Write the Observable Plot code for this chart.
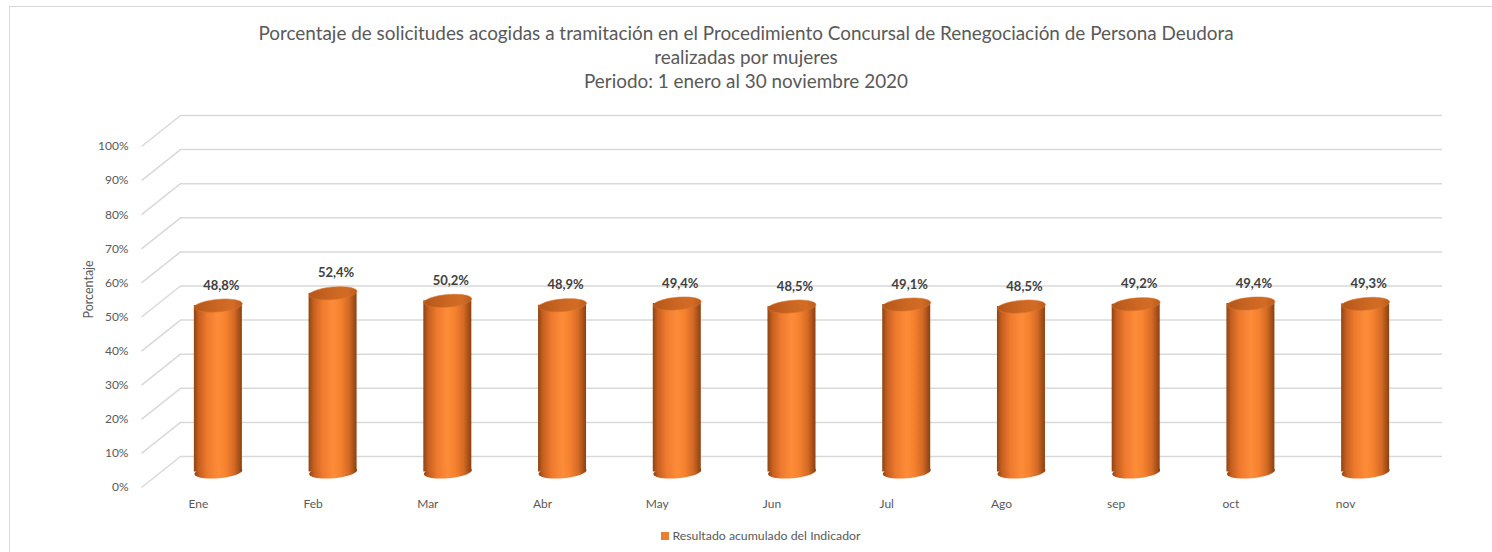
<!DOCTYPE html>
<html>
<head>
<meta charset="utf-8">
<script src="https://cdn.jsdelivr.net/npm/d3@7"></script>
<script src="https://cdn.jsdelivr.net/npm/@observablehq/plot@0.6"></script>
<style>
  html, body { margin: 0; padding: 0; background: #fff; }
  #wrap { position: relative; width: 1492px; height: 552px; overflow: hidden; font-family: Lato, "Open Sans", sans-serif; }
  #frame { position: absolute; left: 9px; top: 6px; width: 1500px; height: 560px; border-top: 1px solid #d9d9d9; border-left: 1px solid #d9d9d9; }
  #title { position: absolute; left: 0; top: 21px; width: 1492px; text-align: center; color: #595959; font-size: 18.9px; line-height: 24px; }
  #chart { position: absolute; left: 0; top: 100px; }
  #legend { position: absolute; left: 15px; top: 528px; width: 1492px; text-align: center; color: #595959; font-size: 12.3px; line-height: 16px; }
  #legend .sw { display: inline-block; width: 8px; height: 8px; background: #ed7d31; margin-right: 3px; vertical-align: 0px; }
</style>
</head>
<body>
<div id="wrap">
  <div id="frame"></div>
  <div id="title">Porcentaje de solicitudes acogidas a tramitación en el Procedimiento Concursal de Renegociación de Persona Deudora<br>realizadas por mujeres<br>Periodo: 1 enero al 30 noviembre 2020</div>
  <div id="chart"></div>
  <div id="legend"><span class="sw"></span>Resultado acumulado del Indicador</div>
</div>
<script>
// ---- data ----
const months = ["Ene", "Feb", "Mar", "Abr", "May", "Jun", "Jul", "Ago", "sep", "oct", "nov"];
const values = [48.8, 52.4, 50.2, 48.9, 49.4, 48.5, 49.1, 48.5, 49.2, 49.4, 49.3];
const yTicks = [0, 10, 20, 30, 40, 50, 60, 70, 80, 90, 100];
const yTickLabels = ["0%", "10%", "20%", "30%", "40%", "50%", "60%", "70%", "80%", "90%", "100%"];
const seriesName = "Resultado acumulado del Indicador";

// ---- layout ----
const W = 1492, H = 415;
const mL = 160.5, mR = 69.5, mT = 30.5, mB = 43.5;
const DX = 19.5, DY = 15.5;          // 3D depth offset (pixels)
const pxX = (W - mL - mR) / months.length;   // pixels per category unit
const pxY = (H - mT - mB) / 100;             // pixels per percent
const halfBar = 24;                           // pixels

const rows = months.map((m, i) => ({ month: m, i, c: i + 0.5, value: values[i] }));
const ticks = yTicks.map((v, j) => ({ v, label: yTickLabels[j] }));

const tilt = -5 * Math.PI / 180;
const ellipse = {
  draw(ctx, size) {
    const rx = Math.sqrt(size / Math.PI), ry = rx * 0.26;
    const n = 48;
    for (let k = 0; k <= n; k++) {
      const t = (k / n) * 2 * Math.PI;
      const x0 = rx * Math.cos(t), y0 = ry * Math.sin(t);
      const x = x0 * Math.cos(tilt) - y0 * Math.sin(tilt);
      const y = x0 * Math.sin(tilt) + y0 * Math.cos(tilt);
      if (k === 0) ctx.moveTo(x, y); else ctx.lineTo(x, y);
    }
    ctx.closePath();
  }
};

const fmt = v => d3.format(".1f")(v).replace(".", ",") + "%";

const chart = Plot.plot({
  width: W, height: H,
  marginLeft: mL, marginRight: mR, marginTop: mT, marginBottom: mB,
  x: { type: "linear", domain: [0, months.length], axis: null },
  y: { domain: [0, 100], axis: null },
  style: { fontFamily: "Lato, 'Open Sans', sans-serif", background: "transparent", overflow: "visible" },
  marks: [
    // back wall gridlines
    Plot.ruleY(ticks, { y: "v", dx: DX, dy: -DY, stroke: "#d9d9d9", strokeWidth: 1.5 }),
    // side wall diagonals
    Plot.link(ticks, {
      x1: () => -DX / pxX, y1: d => d.v - DY / pxY,
      x2: () => DX / pxX, y2: d => d.v + DY / pxY,
      stroke: "#d9d9d9", strokeWidth: 1.5
    }),
    // y tick labels (front plane)
    Plot.text(ticks, { x: () => 0, y: "v", text: "label", dx: -DX - 13, dy: DY, textAnchor: "end", fill: "#595959", fontSize: 12 }),
    // axis title
    Plot.text(["Porcentaje"], { frameAnchor: "left", dx: -72.5, dy: 17, rotate: -90, fill: "#595959", fontSize: 12.5 }),
    // cylinder bottoms
    Plot.dot(rows, { x: "c", y: () => 0, r: halfBar, symbol: ellipse, fill: "url(#cylBody)", stroke: "none" }),
    // cylinder bodies
    Plot.rectY(rows, { x1: d => d.c - halfBar / pxX, x2: d => d.c + halfBar / pxX, y1: () => 0, y2: "value", fill: "url(#cylBody)" }),
    // cylinder tops
    Plot.dot(rows, { x: "c", y: "value", r: halfBar, symbol: ellipse, fill: "url(#cylTop)", stroke: "#d8732c", strokeWidth: 0.6 }),
    // data labels
    Plot.text(rows, { x: "c", y: "value", text: d => fmt(d.value), dx: 3, dy: -20, fill: "#404040", fontSize: 13, fontWeight: "bold" }),
    // category labels (front plane)
    Plot.text(rows, { x: "c", y: () => 0, text: "month", dx: -20, dy: DY + 17, fill: "#595959", fontSize: 12 })
  ]
});

// gradients for cylinder shading
const defs = d3.select(chart).insert("defs", ":first-child");
const bodyGrad = defs.append("linearGradient").attr("id", "cylBody").attr("x1", 0).attr("x2", 1).attr("y1", 0).attr("y2", 0);
[[0, "#8f4312"], [0.1, "#c55f20"], [0.28, "#ee7a2e"], [0.5, "#fd8c39"], [0.66, "#f6822f"], [0.84, "#d46a25"], [1, "#8a4111"]]
  .forEach(([o, c]) => bodyGrad.append("stop").attr("offset", o).attr("stop-color", c));
const topGrad = defs.append("linearGradient").attr("id", "cylTop").attr("x1", 0).attr("x2", 1).attr("y1", 0).attr("y2", 0);
[[0, "#b4561a"], [0.5, "#cc6722"], [0.8, "#d26c25"], [1, "#bb5b1d"]]
  .forEach(([o, c]) => topGrad.append("stop").attr("offset", o).attr("stop-color", c));

document.getElementById("chart").appendChild(chart);
</script>
</body>
</html>
